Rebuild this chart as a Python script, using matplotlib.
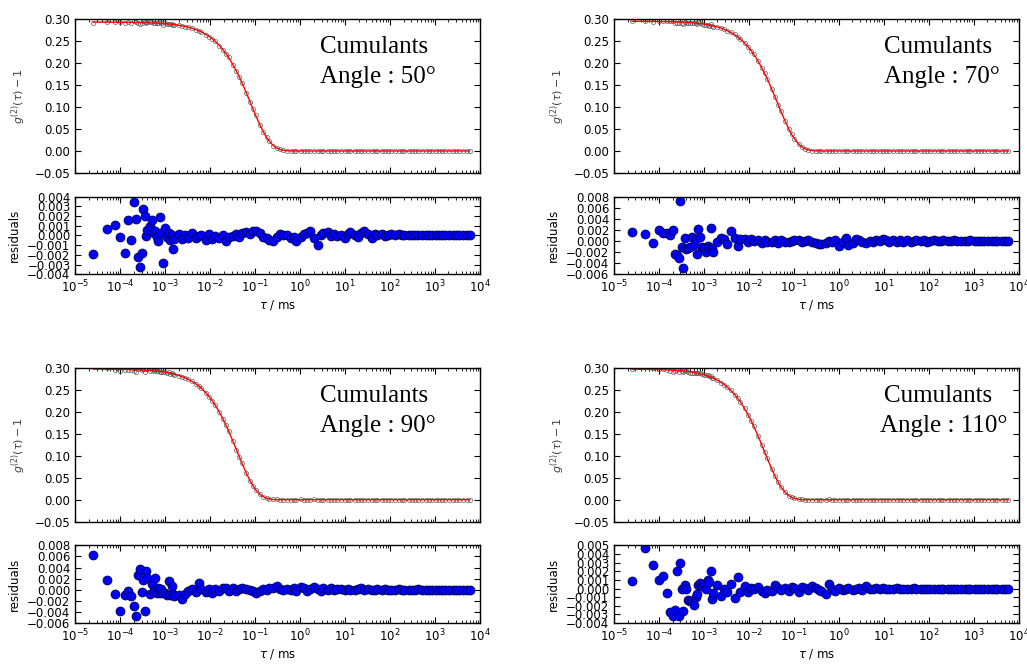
import matplotlib
matplotlib.use('Agg')
import matplotlib.pyplot as plt
from matplotlib.ticker import MultipleLocator, LogLocator

# ---------------- data ----------------
# lag times (ms)
tau = [2.5e-5, 5.0e-5, 7.5e-5, 1.0e-4, 1.25e-4, 1.5e-4, 1.75e-4, 2.0e-4,
       2.25e-4, 2.5e-4, 2.75e-4, 3.0e-4, 3.25e-4, 3.5e-4, 3.75e-4, 4.0e-4,
       4.5e-4, 5.0e-4, 5.5e-4, 6.0e-4, 6.5e-4, 7.0e-4, 7.5e-4, 8.0e-4,
       9.0e-4, 1.0e-3, 1.1e-3, 1.2e-3, 1.3e-3, 1.4e-3, 1.5e-3, 1.6e-3,
       2.0e-3, 2.4e-3, 2.8e-3, 3.2e-3,
       4.0e-3, 4.8e-3, 5.6e-3, 6.4e-3,
       8.0e-3, 9.6e-3, 1.12e-2, 1.28e-2,
       1.6e-2, 1.92e-2, 2.24e-2, 2.56e-2,
       3.2e-2, 3.84e-2, 4.48e-2, 5.12e-2,
       6.4e-2, 7.68e-2, 8.96e-2, 0.1024,
       0.128, 0.1536, 0.1792, 0.2048,
       0.256, 0.3072, 0.3584, 0.4096,
       0.512, 0.6144, 0.7168, 0.8192,
       1.024, 1.229, 1.434, 1.638,
       2.048, 2.458, 2.867, 3.277,
       4.096, 4.915, 5.734, 6.554,
       8.192, 9.830, 11.47, 13.11,
       16.38, 19.66, 22.94, 26.21,
       32.77, 39.32, 45.88, 52.43,
       65.54, 78.64, 91.75, 104.9,
       131.1, 157.3, 183.5, 209.7,
       262.1, 314.6, 367.0, 419.4,
       524.3, 629.1, 734.0, 838.9,
       1049, 1258, 1468, 1678,
       2097, 2517, 2936, 3355,
       4194, 5033, 5872]

# cumulant fits g2(tau)-1
fit_50 = [0.2930, 0.2928, 0.2927, 0.2926, 0.2925, 0.2925, 0.2924, 0.2923,
          0.2922, 0.2921, 0.2920, 0.2919, 0.2918, 0.2917, 0.2916, 0.2915,
          0.2914, 0.2912, 0.2910, 0.2908, 0.2906, 0.2904, 0.2903, 0.2901,
          0.2897, 0.2893, 0.2890, 0.2886, 0.2882, 0.2879, 0.2875, 0.2871,
          0.2858, 0.2843, 0.2829, 0.2815,
          0.2787, 0.2759, 0.2732, 0.2705,
          0.2651, 0.2599, 0.2547, 0.2497,
          0.2399, 0.2305, 0.2214, 0.2128,
          0.1964, 0.1813, 0.1674, 0.1545,
          0.1317, 0.1122, 0.0956, 0.0815,
          0.0592, 0.0430, 0.0312, 0.0227,
          0.0120, 0.0063, 0.0033, 0.0018,
          0.0005, 0.0001, 0.0, 0.0,
          0.0, 0.0, 0.0, 0.0, 0.0, 0.0, 0.0, 0.0, 0.0, 0.0,
          0.0, 0.0, 0.0, 0.0, 0.0, 0.0, 0.0, 0.0, 0.0, 0.0,
          0.0, 0.0, 0.0, 0.0, 0.0, 0.0, 0.0, 0.0, 0.0, 0.0,
          0.0, 0.0, 0.0, 0.0, 0.0, 0.0, 0.0, 0.0, 0.0, 0.0,
          0.0, 0.0, 0.0, 0.0, 0.0, 0.0, 0.0, 0.0, 0.0, 0.0,
          0.0]

fit_70 = [0.2948, 0.2947, 0.2945, 0.2943, 0.2942, 0.2940, 0.2938, 0.2936,
          0.2935, 0.2933, 0.2931, 0.2930, 0.2928, 0.2926, 0.2925, 0.2923,
          0.2919, 0.2916, 0.2913, 0.2909, 0.2906, 0.2903, 0.2899, 0.2896,
          0.2890, 0.2883, 0.2876, 0.2870, 0.2863, 0.2856, 0.2850, 0.2843,
          0.2817, 0.2792, 0.2766, 0.2741,
          0.2691, 0.2642, 0.2594, 0.2546,
          0.2454, 0.2366, 0.2280, 0.2198,
          0.2042, 0.1897, 0.1762, 0.1637,
          0.1413, 0.1220, 0.1053, 0.0909,
          0.0677, 0.0504, 0.0376, 0.0280,
          0.0155, 0.0086, 0.0048, 0.0027,
          0.0008, 0.0003, 0.0001, 0.0000,
          0.0, 0.0, 0.0, 0.0, 0.0, 0.0, 0.0, 0.0, 0.0, 0.0, 0.0,
          0.0, 0.0, 0.0, 0.0, 0.0, 0.0, 0.0, 0.0, 0.0, 0.0, 0.0,
          0.0, 0.0, 0.0, 0.0, 0.0, 0.0, 0.0, 0.0, 0.0, 0.0, 0.0,
          0.0, 0.0, 0.0, 0.0, 0.0, 0.0, 0.0, 0.0, 0.0, 0.0, 0.0,
          0.0, 0.0, 0.0, 0.0, 0.0, 0.0, 0.0, 0.0, 0.0, 0.0, 0.0]

fit_90 = [0.2968, 0.2966, 0.2964, 0.2963, 0.2961, 0.2959, 0.2957, 0.2955,
          0.2953, 0.2951, 0.2950, 0.2948, 0.2946, 0.2944, 0.2942, 0.2940,
          0.2937, 0.2933, 0.2929, 0.2926, 0.2922, 0.2918, 0.2915, 0.2911,
          0.2904, 0.2897, 0.2889, 0.2882, 0.2875, 0.2868, 0.2861, 0.2854,
          0.2825, 0.2797, 0.2769, 0.2742,
          0.2687, 0.2634, 0.2582, 0.2531,
          0.2432, 0.2336, 0.2245, 0.2157,
          0.1991, 0.1838, 0.1697, 0.1566,
          0.1335, 0.1137, 0.0969, 0.0826,
          0.0600, 0.0435, 0.0316, 0.0230,
          0.0121, 0.0064, 0.0034, 0.0018,
          0.0005, 0.0001, 0.0000, 0.0000,
          0.0, 0.0, 0.0, 0.0, 0.0, 0.0, 0.0, 0.0, 0.0, 0.0, 0.0,
          0.0, 0.0, 0.0, 0.0, 0.0, 0.0, 0.0, 0.0, 0.0, 0.0, 0.0,
          0.0, 0.0, 0.0, 0.0, 0.0, 0.0, 0.0, 0.0, 0.0, 0.0, 0.0,
          0.0, 0.0, 0.0, 0.0, 0.0, 0.0, 0.0, 0.0, 0.0, 0.0, 0.0,
          0.0, 0.0, 0.0, 0.0, 0.0, 0.0, 0.0, 0.0, 0.0, 0.0, 0.0]

fit_110 = [0.2967, 0.2963, 0.2960, 0.2957, 0.2953, 0.2950, 0.2947, 0.2943,
           0.2940, 0.2937, 0.2933, 0.2930, 0.2927, 0.2924, 0.2920, 0.2917,
           0.2910, 0.2904, 0.2897, 0.2891, 0.2884, 0.2878, 0.2871, 0.2865,
           0.2852, 0.2839, 0.2827, 0.2814, 0.2801, 0.2789, 0.2776, 0.2764,
           0.2714, 0.2666, 0.2618, 0.2572,
           0.2481, 0.2393, 0.2309, 0.2227,
           0.2072, 0.1928, 0.1794, 0.1669,
           0.1446, 0.1252, 0.1084, 0.0939,
           0.0704, 0.0527, 0.0396, 0.0297,
           0.0167, 0.0094, 0.0053, 0.0030,
           0.0009, 0.0003, 0.0001, 0.0000,
           0.0000, 0.0000, 0.0000, 0.0000,
           0.0, 0.0, 0.0, 0.0, 0.0, 0.0, 0.0, 0.0, 0.0, 0.0, 0.0,
           0.0, 0.0, 0.0, 0.0, 0.0, 0.0, 0.0, 0.0, 0.0, 0.0, 0.0,
           0.0, 0.0, 0.0, 0.0, 0.0, 0.0, 0.0, 0.0, 0.0, 0.0, 0.0,
           0.0, 0.0, 0.0, 0.0, 0.0, 0.0, 0.0, 0.0, 0.0, 0.0, 0.0,
           0.0, 0.0, 0.0, 0.0, 0.0, 0.0, 0.0, 0.0, 0.0, 0.0, 0.0]

# residuals (units of 1e-3)
res_50 = [-1.9, 0.7, 1.1, -0.2, -1.8, 1.6, -0.5, 3.5, 1.7, -2.2, -3.2, -1.8, 2.7, 2.0, -0.1, 0.6,
          1.0, 1.6, 0.3, 0.5, -0.2, -0.6, 1.9, 0.3,
          -2.8, 0.8, -0.2, 0.3, -0.5, 0.1, -1.4, -0.4,
          0.2, -0.4, 0.0, -0.3,
          0.3, -0.3, -0.1, 0.1,
          -0.5, 0.2, -0.4, -0.1,
          -0.3, 0.1, -0.6, -0.2,
          -0.1, 0.2, -0.2, 0.3,
          0.4, 0.2, 0.5, 0.5,
          0.3, -0.2, -0.3, -0.5,
          -0.6, -0.2, 0.2, 0.0,
          0.1, -0.3, -0.2, -0.6,
          -0.2, 0.2, 0.3, 0.5,
          -0.3, -1.0, 0.1, 0.3,
          0.4, -0.1, 0.2, -0.1,
          0.1, -0.3, 0.2, 0.4,
          0.1, -0.2, 0.3, 0.5,
          0.2, -0.3, 0.2, 0.1,
          0.2, -0.1, 0.1, 0.2,
          0.1, 0.2, 0.0, 0.1,
          0.1, 0.0, 0.1, 0.0,
          0.0, 0.1, 0.0, 0.0,
          0.1, 0.0, 0.0, 0.0,
          0.0, 0.0, 0.0, 0.0,
          0.0, 0.0, 0.0]

res_70 = [1.7, 1.3, -0.4, 1.9, 1.4, 1.4, 1.1, 1.9, -2.4, -2.6, -3.0, 7.2, -1.1, -4.8, 0.5, -1.4,
          -1.2, -1.0, 0.7, -0.7, 0.3, -2.3, 2.2, 0.8,
          -1.1, -1.2, -2.0, -0.9, -1.3, 2.3, -1.5, -1.9,
          -0.2, 0.6, 0.3, -0.5,
          1.8, 0.6, -0.9, 0.4,
          0.3, -0.2, 0.3, 0.0,
          0.2, -0.3, 0.2, -0.2,
          -0.2, 0.1, -0.3, 0.1,
          -0.1, -0.2, 0.0, 0.1,
          0.1, -0.2, 0.0, 0.1,
          -0.2, -0.4, -0.6, -0.5,
          -0.3, 0.0, -0.2, 0.1,
          -0.9, -0.2, 0.5, -0.8,
          -0.3, 0.3, 0.2, -0.2,
          -0.3, 0.0, -0.2, 0.1,
          0.0, 0.4, 0.2, -0.1,
          0.2, -0.1, 0.1, -0.2,
          0.1, -0.1, 0.0, 0.1,
          0.0, 0.1, -0.1, 0.0,
          0.1, 0.0, 0.0, 0.1,
          0.0, 0.0, 0.1, 0.0,
          0.0, 0.0, 0.0, 0.1,
          0.0, 0.0, 0.0, 0.0,
          0.0, 0.0, 0.0, 0.0,
          0.0, 0.0, 0.0]

res_90 = [6.2, 1.7, -0.8, -3.8, -1.0, -0.3, -1.2, -3.0, -4.8, 2.7, 3.7, -0.4, 1.8, -3.9, 3.3, 2.1,
          -0.8, 1.1, -0.3, 2.2, -0.5, 0.3, -0.6, 0.2,
          -0.6, -0.5, -0.9, 1.5, -1.0, 0.6, -0.8, -1.2,
          -0.9, -1.6, -0.7, -0.2,
          0.2, -0.4, 1.3, 0.2,
          -0.4, 0.1, -0.5, 0.2,
          -0.2, 0.3, 0.4, -0.2,
          0.3, -0.3, 0.2, 0.3,
          0.2, -0.1, -0.3, -0.6,
          -0.2, 0.1, 0.0, 0.3,
          0.3, 0.6, 0.2, 0.0,
          0.1, -0.1, 0.4, -0.2,
          0.5, 0.3, -0.3, 0.1,
          0.5, 0.2, -0.3, 0.3,
          -0.1, 0.3, 0.0, 0.2,
          0.1, 0.0, 0.2, -0.1,
          0.0, 0.1, 0.3, 0.0,
          0.1, -0.1, 0.0, 0.1,
          0.0, 0.1, 0.0, 0.0,
          0.0, 0.1, 0.0, 0.0,
          0.0, 0.0, 0.0, 0.1,
          0.0, 0.0, 0.0, 0.0,
          0.0, 0.0, 0.0, 0.0,
          0.0, 0.0, 0.0, 0.0,
          0.0, -0.1, -0.1]

res_110 = [0.9, 4.7, 2.7, 1.0, 1.4, -0.5, -2.7, -3.2, -2.5, 2.0, -3.2, 3.0, -0.1, -2.6, 0.4, -0.1,
           -1.3, -1.4, -1.5, -1.9, -1.0, -0.6, 0.4, 0.6,
           0.3, 0.5, 0.0, 1.0, 0.8, 2.0, -1.2, -0.5,
           0.4, -0.9, 0.0, -0.4,
           0.5, -1.1, 1.3, -0.4,
           0.3, -0.4, 0.1, 0.0,
           0.2, -0.3, -0.5, -0.2,
           -0.3, 0.4, 0.1, -0.2,
           0.1, -0.3, 0.2, 0.1,
           -0.4, 0.2, 0.1, -0.2,
           0.3, 0.1, -0.2, -0.3,
           -0.6, 0.5, -0.1, -0.3,
           0.1, -0.2, 0.0, 0.1,
           -0.2, -0.1, 0.1, -0.2,
           0.3, -0.1, 0.0, 0.1,
           -0.1, 0.1, 0.0, -0.1,
           0.0, 0.1, -0.1, 0.0,
           0.0, -0.1, 0.1, 0.0,
           0.0, 0.0, 0.0, 0.0,
           0.0, 0.0, 0.0, 0.0,
           0.0, 0.0, 0.0, 0.0,
           0.0, 0.0, 0.0, 0.0,
           0.0, 0.0, 0.0, 0.0,
           0.0, 0.0, 0.0, 0.0,
           0.0, 0.0, 0.0]

angles = ['50', '70', '90', '110']
fits = [fit_50, fit_70, fit_90, fit_110]
residuals = [res_50, res_70, res_90, res_110]
res_limits = [(-0.004, 0.004), (-0.006, 0.008), (-0.006, 0.008), (-0.004, 0.005)]
res_steps = [0.001, 0.002, 0.002, 0.001]

# ---------------- layout ----------------
fig = plt.figure(figsize=(10.27, 6.64), dpi=100)
lefts = [0.0733, 0.5979, 0.0733, 0.5979]
width = 0.394
main_bottoms = [0.7395, 0.7395, 0.2143, 0.2143]
res_bottoms = [0.5869, 0.5869, 0.0617, 0.0617]
main_h = 0.2319
res_h = 0.1169
text_x = [0.605, 0.668, 0.605, 0.668]
angle_x = [0.605, 0.668, 0.605, 0.658]


def style(ax):
    ax.set_xscale('log')
    ax.set_xlim(1e-5, 1e4)
    ax.xaxis.set_major_locator(LogLocator(base=10, numticks=20))
    ax.xaxis.set_minor_locator(LogLocator(base=10, subs=range(2, 10), numticks=20))
    ax.tick_params(which='both', direction='in', top=True, right=True,
                   labelsize=8.5, colors='black')
    ax.tick_params(which='major', length=4.5, width=0.8)
    ax.tick_params(which='minor', length=2.2, width=0.6)
    for s in ax.spines.values():
        s.set_linewidth(1.0)


for i in range(4):
    g = fits[i]
    r = [v * 1e-3 for v in residuals[i]]
    data = [a + b for a, b in zip(g, r)]

    ax = fig.add_axes([lefts[i], main_bottoms[i], width, main_h])
    style(ax)
    ax.plot(tau, data, 'o', mfc='none', mec='0.35', ms=3.0, mew=0.6, alpha=0.8)
    ax.plot(tau, g, '-', color='red', lw=1.0)
    ax.set_ylim(-0.05, 0.30)
    ax.yaxis.set_major_locator(MultipleLocator(0.05))
    ax.tick_params(labelbottom=False)
    ax.set_ylabel(r'$g^{(2)}(\tau) - 1$', fontsize=8, color='0.25')
    ax.yaxis.set_label_coords(-0.117, 0.5)
    ax.text(text_x[i], 0.777, 'Cumulants', transform=ax.transAxes,
            fontsize=18, family='Liberation Serif', va='baseline', ha='left')
    ax.text(angle_x[i], 0.582, 'Angle : ' + angles[i] + '\u00b0', transform=ax.transAxes,
            fontsize=18, family='Liberation Serif', va='baseline', ha='left')

    axr = fig.add_axes([lefts[i], res_bottoms[i], width, res_h])
    style(axr)
    axr.plot(tau, r, 'o', color='#0000ff', mec='#000033', ms=6.5, mew=0.5)
    axr.set_ylim(*res_limits[i])
    axr.yaxis.set_major_locator(MultipleLocator(res_steps[i]))
    axr.set_ylabel('residuals', fontsize=8.5)
    axr.yaxis.set_label_coords(-0.134, 0.5)
    axr.set_xlabel(r'$\tau$ / ms', fontsize=8.5)
    axr.xaxis.set_label_coords(0.5, -0.31)

fig.savefig('out.png', dpi=100)
